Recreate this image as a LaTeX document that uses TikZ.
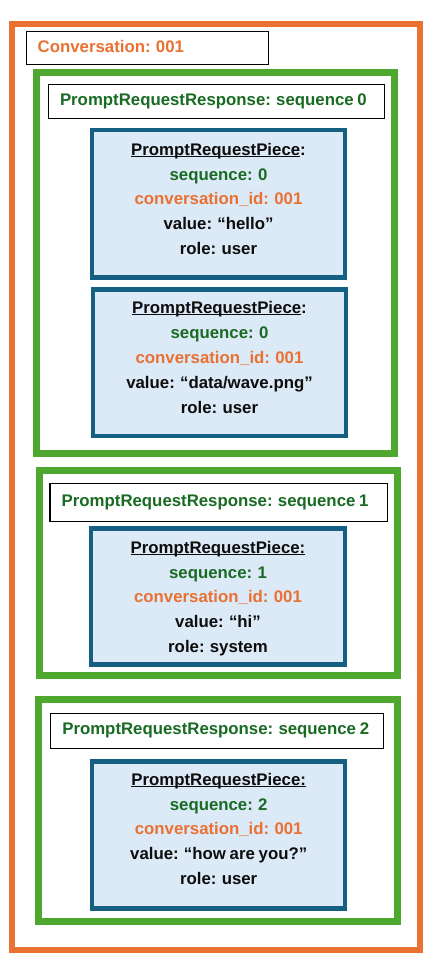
\documentclass[tikz,border=0pt]{standalone}
\usepackage{fontspec}
\setmainfont{Liberation Sans}[WordSpace=0.8]
\definecolor{convorange}{HTML}{E97132}
\definecolor{respgreen}{HTML}{4EA72E}
\definecolor{seqgreen}{HTML}{196B24}
\definecolor{pieceblue}{HTML}{156082}
\definecolor{piecefill}{HTML}{DCEAF7}
\newcommand\ulword[1]{\setbox0\hbox{#1}\rlap{\rule[-1.8bp]{\wd0}{1.1bp}}\box0}
\begin{document}
\begin{tikzpicture}[x=1bp,y=-1bp,
  every node/.style={font=\fontsize{16.8bp}{20bp}\selectfont\bfseries, inner sep=0pt, outer sep=0pt},
  frame/.style={draw, anchor=north west},
  convframe/.style={frame, draw=convorange, line width=6bp},
  respframe/.style={frame, draw=respgreen, line width=7bp},
  labelbox/.style={frame, draw=black, line width=1.2bp, fill=white},
  piecebox/.style={frame, draw=pieceblue, line width=4.5bp, fill=piecefill},
  txt/.style={anchor=base},
  ltxt/.style={anchor=base west},
  seqtxt/.style={txt, text=seqgreen},
  idtxt/.style={txt, text=convorange},
  blktxt/.style={txt, text=black!95}]
\useasboundingbox (0,0) rectangle (435,963);

% conversation
\node[convframe, minimum width=407.5bp, minimum height=925.5bp] (conv) at (12,24) {};
\node[labelbox, minimum width=242.4bp, minimum height=33bp] (convlbl) at (26.3,31.3) {};
\node[ltxt, text=convorange] (convtxt) at (37.7,52.7) {Conversation: 001};

% response 0
\node[respframe, minimum width=358bp, minimum height=381.3bp] (r0) at (36.5,72) {};
\node[labelbox, minimum width=336.4bp, minimum height=34bp] (r0lbl) at (48.3,84.3) {};
\node[ltxt, text=seqgreen] (r0txt) at (60,105.7) {PromptRequestResponse: sequence 0};

\node[piecebox, minimum width=253bp, minimum height=147.3bp] (p1) at (92,130) {};
\node[blktxt] (p1h) at (218.5,155) {\ulword{PromptRequestPiece}:};
\node[seqtxt] (p1s) at (218.5,180) {sequence: 0};
\node[idtxt] (p1c) at (218.5,204.5) {conversation\_id: 001};
\node[blktxt] (p1v) at (218.5,229) {value: “hello”};
\node[blktxt] (p1r) at (218.5,254) {role: user};

\node[piecebox, minimum width=253bp, minimum height=146.5bp] (p2) at (93,289.5) {};
\node[blktxt] (p2h) at (219.5,313.3) {\ulword{PromptRequestPiece}:};
\node[seqtxt] (p2s) at (219.5,338.3) {sequence: 0};
\node[idtxt] (p2c) at (219.5,363.3) {conversation\_id: 001};
\node[blktxt] (p2v) at (219.5,388.3) {value: “data/wave.png”};
\node[blktxt] (p2r) at (219.5,413.3) {role: user};

% response 1
\node[respframe, minimum width=358bp, minimum height=204.6bp] (r1) at (39.3,470.7) {};
\node[labelbox, minimum width=337.7bp, minimum height=38bp] (r1lbl) at (50,483.3) {};
\node[ltxt, text=seqgreen] (r1txt) at (61.7,506) {PromptRequestResponse: sequence 1};

\node[piecebox, minimum width=253.8bp, minimum height=136bp] (p3) at (91.2,528.7) {};
\node[blktxt] (p3h) at (218,553.3) {\ulword{PromptRequestPiece:}};
\node[seqtxt] (p3s) at (218,578.3) {sequence: 1};
\node[idtxt] (p3c) at (218,602.7) {conversation\_id: 001};
\node[blktxt] (p3v) at (218,627.7) {value: “hi”};
\node[blktxt] (p3r) at (218,652.7) {role: system};

% response 2
\node[respframe, minimum width=358.8bp, minimum height=221.6bp] (r2) at (38.5,699.7) {};
\node[labelbox, minimum width=333.4bp, minimum height=35bp] (r2lbl) at (50.3,713.3) {};
\node[ltxt, text=seqgreen] (r2txt) at (62.3,734.3) {PromptRequestResponse: sequence 2};

\node[piecebox, minimum width=253bp, minimum height=147.4bp] (p4) at (92.2,761.3) {};
\node[blktxt] (p4h) at (218.7,785) {\ulword{PromptRequestPiece:}};
\node[seqtxt] (p4s) at (218.7,810) {sequence: 2};
\node[idtxt] (p4c) at (218.7,834.3) {conversation\_id: 001};
\node[blktxt] (p4v) at (218.7,859.3) {value: “how are you?”};
\node[blktxt] (p4r) at (218.7,884) {role: user};
\end{tikzpicture}
\end{document}
